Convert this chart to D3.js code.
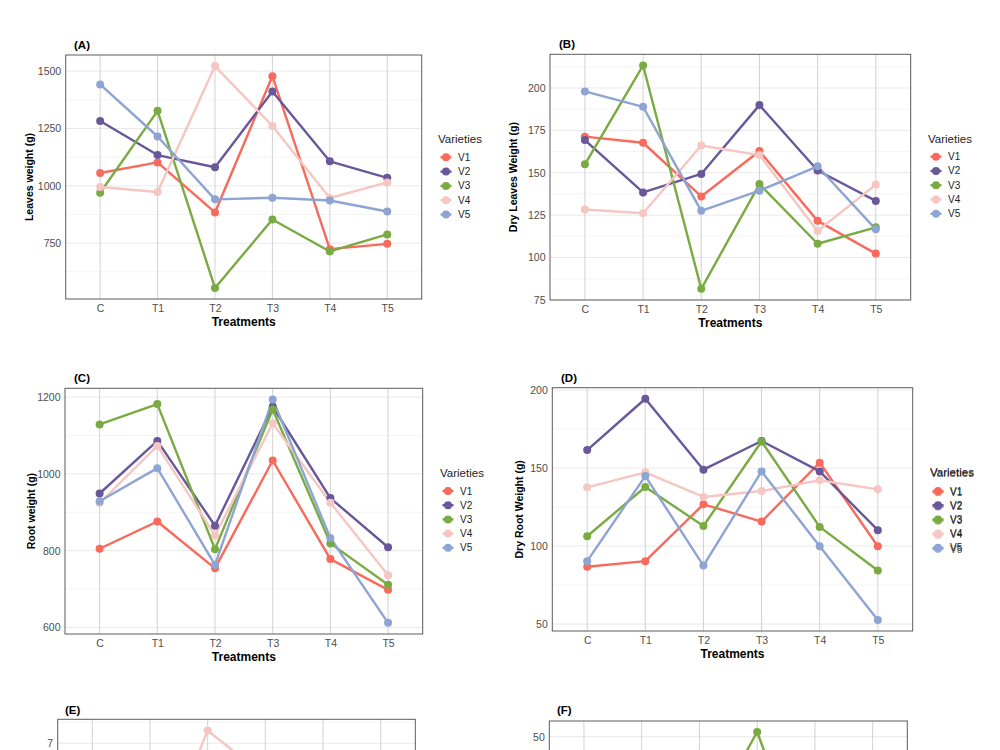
<!DOCTYPE html>
<html>
<head>
<meta charset="utf-8">
<script src="https://cdn.jsdelivr.net/npm/d3@7"></script>
<style>
  body { margin: 0; background: #fff; }
  svg { display: block; font-family: "Liberation Sans", Arial, sans-serif; }
</style>
</head>
<body>
<svg id="chart"></svg>
<script>
// categories
const treatments = ["C", "T1", "T2", "T3", "T4", "T5"];
const varieties = ["V1", "V2", "V3", "V4", "V5"];
const colors = ["#f9695c", "#68589a", "#7aab43", "#f5c6c2", "#8ea4d2"];

// one row per variety (V1..V5), one value per treatment
const leavesWeight = [
  [1056, 1102, 884, 1478, 724, 747],
  [1283, 1134, 1081, 1411, 1107, 1035],
  [970, 1327, 555, 853, 714, 788],
  [995, 973, 1522, 1261, 947, 1015],
  [1442, 1215, 941, 948, 936, 888]
];
const dryLeavesWeight = [
  [171.3, 167.7, 136.0, 162.8, 121.6, 102.3],
  [169.3, 138.4, 149.3, 189.9, 151.3, 133.4],
  [155.0, 213.3, 81.5, 143.3, 108.1, 117.8],
  [128.3, 126.1, 166.1, 160.4, 115.6, 143.0],
  [198.0, 188.9, 127.5, 139.4, 153.8, 116.6]
];
const rootWeight = [
  [805, 876, 754, 1035, 778, 698],
  [949, 1086, 865, 1175, 937, 809],
  [1129, 1182, 804, 1168, 819, 711],
  [924, 1073, 840, 1132, 925, 736],
  [929, 1015, 763, 1194, 833, 612]
];
const dryRootWeight = [
  [86.7, 90.3, 126.8, 115.7, 153.5, 99.9],
  [161.6, 194.5, 149.0, 167.4, 147.9, 110.2],
  [106.3, 137.9, 112.9, 167.1, 112.3, 84.3],
  [137.7, 147.3, 131.5, 135.3, 142.2, 136.4],
  [90.3, 144.9, 87.5, 147.9, 99.9, 52.6]
];
// panels E and F are cut off at the bottom of the picture
const panelE = [
  [3.1, 3.6, 4.4, 3.9, 3.3, 2.9],
  [4.2, 4.8, 5.1, 4.6, 4.0, 3.5],
  [3.5, 4.1, 3.2, 5.0, 3.8, 2.6],
  [4.6, 3.92, 7.3, 6.22, 5.2, 4.4],
  [2.8, 3.3, 2.02, 4.3, 3.0, 2.5]
];
const panelF = [
  [15, 20, 24, 31, 17, 10],
  [26, 33, 22, 38, 25, 16],
  [22, 30, 28.9, 51, 18, 12],
  [19, 17, 30, 35, 21, 14],
  [12, 23, 16, 29, 13, 4.2]
];

// tick values
const leavesTicks = [750, 1000, 1250, 1500];
const dryLeavesTicks = [75, 100, 125, 150, 175, 200];
const rootTicks = [600, 800, 1000, 1200];
const dryRootTicks = [50, 100, 150, 200];
const eTicks = [2, 3, 4, 5, 6, 7];
const fTicks = [10, 20, 30, 40, 50];

const W = 1000, H = 750;
const svg = d3.select("#chart").attr("width", W).attr("height", H);
svg.append("rect").attr("width", W).attr("height", H).attr("fill", "#fff");

const panels = [
  { tag: "(A)", ytitle: "Leaves weight (g)", values: leavesWeight, ticks: leavesTicks,
    left: 65.7, right: 421.7, top: 55, bottom: 299, titleX: 74, titleY: 49, yTitleX: 33,
    legendX: 438, legendY: 143, itemY: 157.3, step: 14.3 },
  { tag: "(B)", ytitle: "Dry Leaves Weight (g)", values: dryLeavesWeight, ticks: dryLeavesTicks,
    left: 550, right: 910.7, top: 54.3, bottom: 300, titleX: 559, titleY: 47.5, yTitleX: 517,
    legendX: 928, legendY: 143, itemY: 156.7, step: 14.25 },
  { tag: "(C)", ytitle: "Root weight (g)", values: rootWeight, ticks: rootTicks,
    left: 65, right: 422.7, top: 388.3, bottom: 634, titleX: 74, titleY: 382, yTitleX: 34.5,
    legendX: 440, legendY: 476.7, itemY: 491, step: 14.2 },
  { tag: "(D)", ytitle: "Dry Root Weight (g)", values: dryRootWeight, ticks: dryRootTicks,
    left: 552.3, right: 912.7, top: 387.7, bottom: 631, titleX: 561, titleY: 382, yTitleX: 523,
    legendX: 930, legendY: 476, itemY: 491, step: 14.2, doubled: true },
  { tag: "(E)", values: panelE, ticks: eTicks,
    left: 57.7, right: 415.3, top: 719.3, bottom: 966, titleX: 65, titleY: 714 },
  { tag: "(F)", values: panelF, ticks: fTicks,
    left: 549.3, right: 907.3, top: 721, bottom: 963, titleX: 557, titleY: 714 }
];

function drawLegend(g, p, dy, op) {
  const lg = g.append("g").attr("transform", `translate(0,${dy})`).attr("opacity", op);
  lg.append("text").attr("x", p.legendX).attr("y", p.legendY)
    .attr("font-size", 11.5).attr("fill", "#222").text("Varieties");
  varieties.forEach((v, i) => {
    const cy = p.itemY + i * p.step;
    lg.append("line").attr("x1", p.legendX + 2.5).attr("x2", p.legendX + 13.5)
      .attr("y1", cy).attr("y2", cy).attr("stroke", colors[i]).attr("stroke-width", 2.4);
    lg.append("circle").attr("cx", p.legendX + 8).attr("cy", cy).attr("r", 4).attr("fill", colors[i]);
    lg.append("text").attr("x", p.legendX + 20).attr("y", cy + 3.5)
      .attr("font-size", 10).attr("fill", "#222").text(v);
  });
}

function drawPanel(p) {
  const g = svg.append("g");
  const all = p.values.flat();
  const lo = d3.min(all), hi = d3.max(all), pad = (hi - lo) * 0.05;

  const x = d3.scalePoint().domain(treatments).range([p.left, p.right]).padding(0.6);
  const y = d3.scaleLinear().domain([lo - pad, hi + pad]).range([p.bottom, p.top]);

  const half = (p.ticks[1] - p.ticks[0]) / 2;
  const minor = d3.range(p.ticks[0] - half, p.ticks[p.ticks.length - 1] + half + 1e-9, half * 2)
    .filter(v => v > lo - pad && v < hi + pad);
  const major = p.ticks.filter(v => v >= lo - pad && v <= hi + pad);

  // gridlines
  g.append("g").selectAll("line").data(minor).join("line")
    .attr("x1", p.left).attr("x2", p.right)
    .attr("y1", d => y(d)).attr("y2", d => y(d))
    .attr("stroke", "#f3f3f3").attr("stroke-width", 0.8);
  g.append("g").selectAll("line").data(major).join("line")
    .attr("x1", p.left).attr("x2", p.right)
    .attr("y1", d => y(d)).attr("y2", d => y(d))
    .attr("stroke", "#e9e9e9").attr("stroke-width", 1);
  g.append("g").selectAll("line").data(treatments).join("line")
    .attr("x1", d => x(d)).attr("x2", d => x(d))
    .attr("y1", p.top).attr("y2", p.bottom)
    .attr("stroke", "#d2d2d2").attr("stroke-width", 1);

  // lines, then points on top
  const line = d3.line().x((d, i) => x(treatments[i])).y(d => y(d));
  p.values.forEach((vals, k) => {
    g.append("path").attr("d", line(vals)).attr("fill", "none")
      .attr("stroke", colors[k]).attr("stroke-width", 2.4).attr("stroke-linejoin", "round");
  });
  p.values.forEach((vals, k) => {
    g.append("g").selectAll("circle").data(vals).join("circle")
      .attr("cx", (d, i) => x(treatments[i])).attr("cy", d => y(d))
      .attr("r", 4).attr("fill", colors[k]);
  });

  // panel border
  g.append("rect").attr("x", p.left).attr("y", p.top)
    .attr("width", p.right - p.left).attr("height", p.bottom - p.top)
    .attr("fill", "none").attr("stroke", "#5c5c5c").attr("stroke-width", 1);

  // axes (labels only where they fall inside the picture)
  const axes = [];
  if (p.bottom + 16 < H) {
    axes.push(g.append("g").attr("transform", `translate(0,${p.bottom})`)
      .call(d3.axisBottom(x).tickSize(0).tickPadding(5.5)));
  }
  const shown = major.filter(v => y(v) + 5 < H);
  axes.push(g.append("g").attr("transform", `translate(${p.left},0)`)
    .call(d3.axisLeft(y).tickValues(shown).tickSize(0).tickPadding(4.5).tickFormat(d => String(d))));
  axes.forEach(a => {
    a.select(".domain").remove();
    a.selectAll("text").attr("font-size", 10.5).attr("fill", "#4d4d4d")
      .attr("font-family", "Liberation Sans, Arial, sans-serif");
  });

  // titles
  g.append("text").attr("x", p.titleX).attr("y", p.titleY)
    .attr("font-size", 11.5).attr("font-weight", "bold").attr("fill", "#000").text(p.tag);
  if (p.ytitle) {
    g.append("text").attr("x", (p.left + p.right) / 2).attr("y", p.bottom + 26.5)
      .attr("text-anchor", "middle").attr("font-size", 12).attr("font-weight", "bold")
      .attr("fill", "#000").text("Treatments");
    const cy = (p.top + p.bottom) / 2;
    g.append("text").attr("transform", `translate(${p.yTitleX},${cy}) rotate(-90)`)
      .attr("text-anchor", "middle").attr("font-size", 10.5).attr("font-weight", "bold")
      .attr("fill", "#000").text(p.ytitle);
    drawLegend(g, p, 0, 1);
    if (p.doubled) drawLegend(g, p, 1.3, 0.75);
  }
}

panels.forEach(drawPanel);
</script>
</body>
</html>
